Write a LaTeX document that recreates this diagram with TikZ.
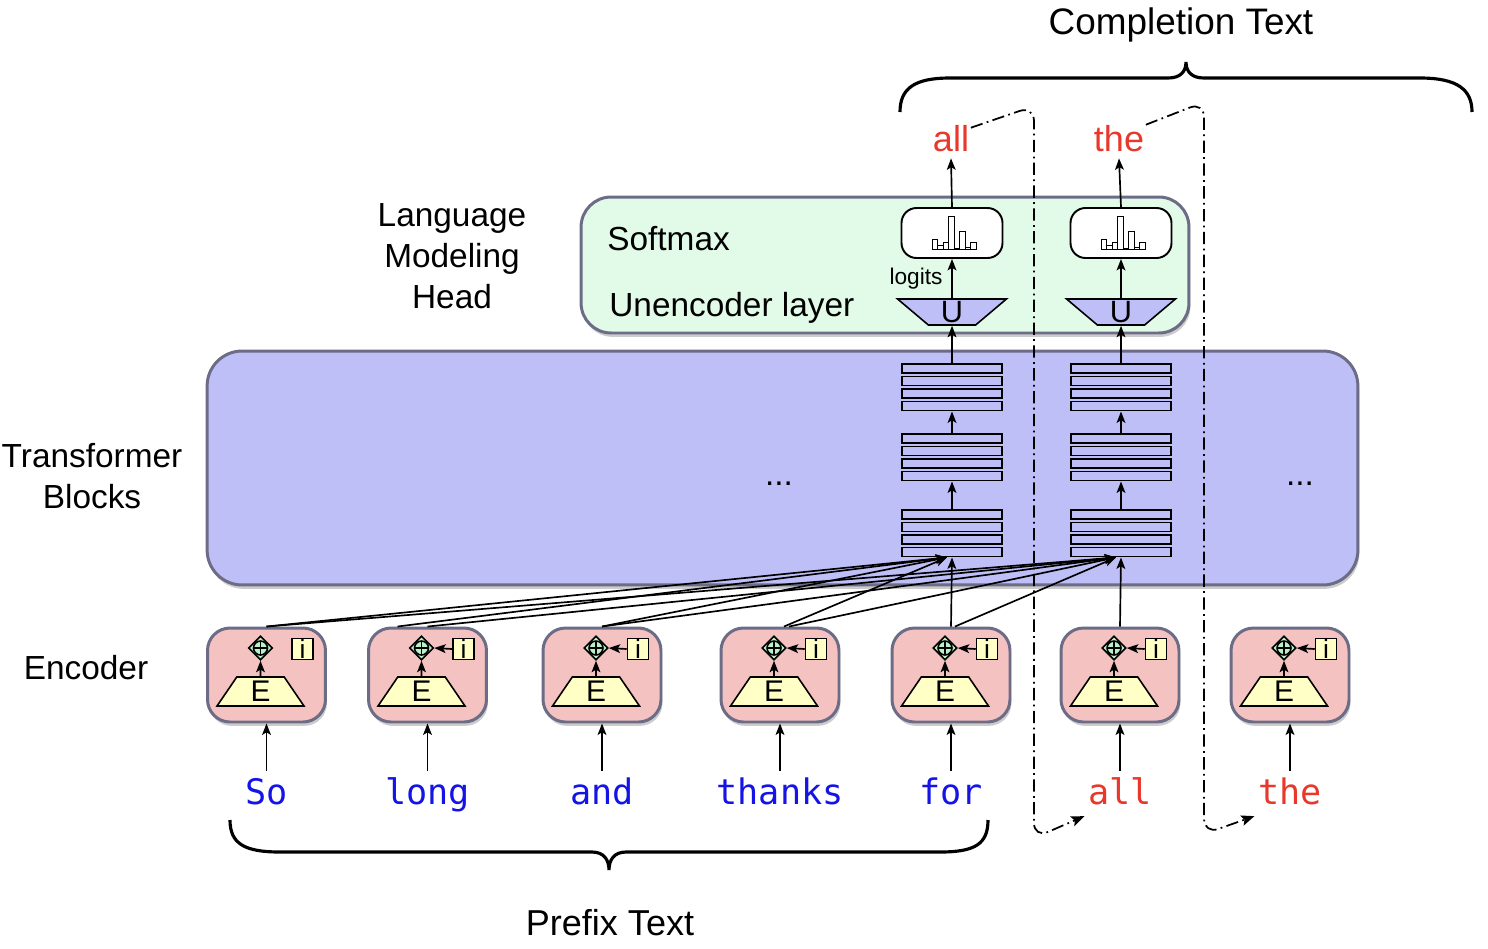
\documentclass[tikz,border=0pt]{standalone}
\usepackage{fontspec}
\setmainfont{Liberation Sans}
\setmonofont{DejaVu Sans Mono}
\usetikzlibrary{shapes.geometric,arrows.meta,calc,shadows}
\definecolor{tblue}{RGB}{191,191,247}
\definecolor{lmgreen}{RGB}{226,250,232}
\definecolor{bord}{RGB}{108,108,135}
\definecolor{encpink}{RGB}{244,194,193}
\definecolor{lyellow}{RGB}{255,255,198}
\definecolor{dgreen}{RGB}{184,240,200}
\definecolor{wblue}{RGB}{20,20,230}
\definecolor{wred}{RGB}{232,56,44}
\begin{document}
\begin{tikzpicture}[x=0.02cm,y=-0.02cm,
  arr/.style={-{Stealth[length=6.5pt,width=5pt,inset=1.5pt]}, line width=0.95pt},
  bigbox/.style={draw=bord, line width=1.7pt, drop shadow={shadow xshift=0.8pt,shadow yshift=-2.2pt,opacity=0.4}},
  encbox/.style={bigbox, fill=encpink, minimum width=2.36cm, minimum height=1.88cm, rounded corners=0.45cm},
  bar/.style={draw, line width=1.1pt, fill=tblue, minimum width=2cm, minimum height=0.18cm, inner sep=0},
  addnode/.style={diamond, draw, line width=0.9pt, fill=dgreen, minimum size=0.48cm, inner sep=0},
  ibox/.style={draw, line width=0.9pt, fill=lyellow, minimum size=0.42cm, inner sep=0, font=\fontsize{15}{15}\selectfont},
  etrap/.style={trapezium, trapezium stretches=true, trapezium left angle=68, trapezium right angle=68, minimum width=1.74cm, minimum height=0.58cm, inner sep=0, draw, line width=0.9pt, fill=lyellow, font=\fontsize{17}{17}\selectfont},
  utrap/.style={trapezium, trapezium stretches=true, trapezium left angle=124, trapezium right angle=124, minimum width=2.18cm, minimum height=0.52cm, inner sep=0, draw, line width=0.9pt, fill=tblue, font=\fontsize{17.5}{17.5}\selectfont},
  smbox/.style={draw, line width=1.1pt, fill=white, rounded corners=0.3cm, minimum width=2.02cm, minimum height=1cm},
  word/.style={font=\ttfamily\fontsize{20}{20}\selectfont, anchor=base, text height=16pt, text depth=4pt, inner ysep=2.7pt, inner xsep=2pt},
  topword/.style={font=\fontsize{20.5}{20.5}\selectfont, text=wred, anchor=base, text height=15pt, text depth=1pt, inner ysep=3pt, inner xsep=2pt},
  lab/.style={font=\fontsize{19}{23.2}\selectfont, align=center},
  dd/.style={line width=1pt, dash pattern=on 7pt off 2.5pt on 1pt off 2.5pt, rounded corners=0.3cm},
  brace/.style={line width=1.8pt},
]
\useasboundingbox (0,0) rectangle (1488,948);

% big boxes
\node[bigbox, fill=tblue, minimum width=23.02cm, minimum height=4.68cm, rounded corners=0.7cm] (tb) at (782.5,468) {};
\node[bigbox, fill=lmgreen, minimum width=12.16cm, minimum height=2.72cm, rounded corners=0.6cm] (lm) at (885,265) {};

% labels
\node[lab] (lmlab) at (452,256) {Language\\Modeling\\Head};
\node[lab] (tblab) at (92,476) {Transformer\\Blocks};
\node[lab] (enclab) at (86,668) {Encoder};
\node[lab, anchor=base west, inner sep=0] (smlab) at (607,250) {Softmax};
\node[lab, anchor=base west, inner sep=0] (unlab) at (609,316) {Unencoder layer};
\node[lab] (dots1) at (779,484) {...};
\node[lab] (dots2) at (1300,484) {...};
\node[font=\fontsize{21}{21}\selectfont] (comp) at (1181,25) {Completion Text};
\node[font=\fontsize{20.5}{20.5}\selectfont] (pref) at (610,923) {Prefix Text};

% encoders and words
\foreach \n/\cx/\w/\c in {1/266.5/So/wblue, 2/427.5/long/wblue, 3/602/and/wblue, 4/780/thanks/wblue, 5/951/for/wblue, 6/1120/all/wred, 7/1290/the/wred} {
  \node[encbox] (enc\n) at (\cx,675) {};
  \node[addnode] (add\n) at (\cx-6,648) {};
  \draw[line width=0.9pt] (add\n.center) circle (0.14cm);
  \draw[line width=0.9pt] ($(add\n.center)+(-7,0)$) -- ($(add\n.center)+(7,0)$);
  \draw[line width=0.9pt] ($(add\n.center)+(0,-7)$) -- ($(add\n.center)+(0,7)$);
  \node[ibox] (i\n) at (\cx+36,649) {i};
  \node[etrap] (E\n) at (\cx-6,691.5) {E};
  \draw[arr] (E\n.north) -- (add\n.south);
  \node[word, text=\c] (w\n) at (\cx,804) {\w};
  \draw[arr] (w\n.north) -- (enc\n.south);
}
\foreach \n in {2,...,7} {
  \draw[arr] (i\n.west) -- (add\n.east);
}

% stacks, unencoder, softmax
\foreach \s/\cx in {1/952, 2/1121} {
  \foreach \g/\gy in {1/368.5, 2/438.5, 3/514.5} {
    \foreach \b in {1,...,4} {
      \node[bar] (s\s-g\g-b\b) at (\cx, \gy+12.5*\b-12.5) {};
    }
  }
  \draw[arr] (s\s-g3-b1.north) -- (s\s-g2-b4.south);
  \draw[arr] (s\s-g2-b1.north) -- (s\s-g1-b4.south);
  \node[utrap] (U\s) at (\cx,312) {U};
  \draw[arr] (s\s-g1-b1.north) -- (U\s.south);
  \node[smbox] (sm\s) at (\cx,233) {};
  \draw[arr] (U\s.north) -- (sm\s.south);
  \foreach \dx/\h in {-20/10, -14.5/4, -9/7, -3.5/33, 2/1, 7.5/18, 13/2, 18.5/7} {
    \draw[line width=0.55pt] ($(sm\s.center)+(\dx,16.5)$) rectangle ++(5.5,-\h);
  }
}
\node[font=\fontsize{12.9}{12.9}\selectfont, inner sep=0] (logits) at (916,279) {logits};

% top words
\node[topword] (ta1) at (951,151) {all};
\node[topword] (ta2) at (1119,151) {the};
\draw[arr] (sm1.north) -- (ta1.south);
\draw[arr] (sm2.north) -- (ta2.south);

% attention connectors
\coordinate (t1) at ($(s1-g3-b4.south)+(-5,0)$);
\coordinate (t2) at ($(s2-g3-b4.south)+(-5,0)$);
\draw[arr] (enc1.north) -- (t1);
\draw[arr] (enc1.north) -- (t2);
\draw[arr] ($(enc2.north)+(-30,0)$) -- (t1);
\draw[arr] (enc2.north) -- (t2);
\draw[arr] (enc3.north) -- (t1);
\draw[arr] (enc3.north) -- (t2);
\draw[arr] ($(enc4.north)+(4,0)$) -- (t1);
\draw[arr] ($(enc4.north)+(9,0)$) -- (t2);
\draw[arr] (enc5.north) -- (s1-g3-b4.south);
\draw[arr] ($(enc5.north)+(4,0)$) -- (t2);
\draw[arr] (enc6.north) -- (s2-g3-b4.south);

% feedback dash-dot
\draw[dd, -{Stealth[length=7.5pt,width=6pt,inset=1.5pt]}] ($(ta1.east)+(-2,-11)$) -- (1034,106) -- (1034,838) -- (w6.south west);
\draw[dd, -{Stealth[length=7.5pt,width=6pt,inset=1.5pt]}] ($(ta2.east)+(-2,-14)$) -- (1204,102) -- (1204,834) -- (w7.south west);

% braces
\draw[brace] (900,112) .. controls (900,88) and (915,78) .. (950,78) -- (1168,78) .. controls (1180,78) and (1186,72) .. (1186,62) .. controls (1186,72) and (1192,78) .. (1204,78) -- (1420,78) .. controls (1458,78) and (1472,90) .. (1472,112);
\draw[brace] (230,820) .. controls (230,844) and (245,852) .. (280,852) -- (592,852) .. controls (604,852) and (609,860) .. (609,870) .. controls (609,860) and (614,852) .. (626,852) -- (940,852) .. controls (975,852) and (988,844) .. (988,820);
\end{tikzpicture}
\end{document}
